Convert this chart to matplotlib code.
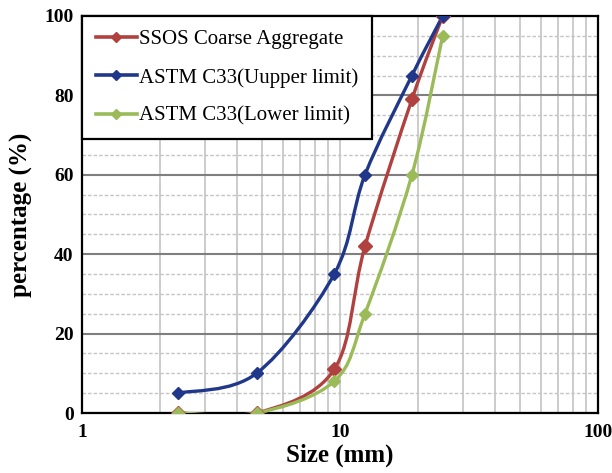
import numpy as np
import matplotlib.pyplot as plt
from matplotlib.path import Path
from matplotlib.patches import PathPatch
from matplotlib.lines import Line2D
from matplotlib.ticker import MultipleLocator, LogLocator, NullFormatter, FixedLocator

plt.rcParams['font.family'] = ['Liberation Serif', 'DejaVu Serif']

sizes = [2.36, 4.75, 9.5, 12.5, 19, 25]
ssos = [0, 0, 11, 42, 79, 100]
upper = [5, 10, 35, 60, 85, 100]
lower = [0, 0, 8, 25, 60, 95]

series = [
    ("SSOS Coarse Aggregate", ssos, '#B0413E', 10),
    ("ASTM C33(Uupper limit)", upper, '#21388A', 8),
    ("ASTM C33(Lower limit)", lower, '#9BBB59', 8),
]


def smooth_path(xs, ys):
    # catmull-rom style bezier in (log x, y) space, like excel smoothed lines
    lx = np.log10(xs)
    ys = np.asarray(ys, float)
    n = len(lx)
    verts = [(xs[0], ys[0])]
    codes = [Path.MOVETO]
    for i in range(n - 1):
        i0 = max(i - 1, 0)
        i3 = min(i + 2, n - 1)
        c1x = lx[i] + (lx[i + 1] - lx[i0]) / 6
        c1y = ys[i] + (ys[i + 1] - ys[i0]) / 6
        c2x = lx[i + 1] - (lx[i3] - lx[i]) / 6
        c2y = ys[i + 1] - (ys[i3] - ys[i]) / 6
        verts += [(10 ** c1x, c1y), (10 ** c2x, c2y), (xs[i + 1], ys[i + 1])]
        codes += [Path.CURVE4] * 3
    return Path(verts, codes)


fig = plt.figure(figsize=(6.12, 4.73), dpi=100)
ax = fig.add_axes([82 / 612, 60 / 473, 516 / 612, 397 / 473])
ax.set_xscale('log')
ax.set_xlim(1, 100)
ax.set_ylim(0, 100)

ax.xaxis.set_major_locator(FixedLocator([1, 10, 100]))
ax.xaxis.set_minor_locator(LogLocator(base=10, subs=np.arange(2, 10)))
ax.xaxis.set_minor_formatter(NullFormatter())
ax.yaxis.set_major_locator(MultipleLocator(20))
ax.yaxis.set_minor_locator(MultipleLocator(5))

ax.grid(True, which='both', axis='x', color='#C4C4C4', lw=1.2, ls='-')
ax.grid(True, which='major', axis='y', color='#7F7F7F', lw=1.5, ls='-')
ax.grid(True, which='minor', axis='y', color='#C4C4C4', lw=1.0, ls=(0, (2.5, 1.5)))
ax.set_axisbelow(True)

ax.tick_params(axis='x', which='both', length=0, pad=8, labelsize=14)
ax.tick_params(axis='y', which='both', length=0, pad=6, labelsize=14)
for lab in ax.get_yticklabels():
    lab.set_fontweight('bold')
ax.set_xticklabels(['1', '10', '100'], fontweight='bold')

for sp in ax.spines.values():
    sp.set_linewidth(1.6)
    sp.set_color('black')

handles = []
for name, vals, col, ms in series:
    ax.add_patch(PathPatch(smooth_path(sizes, vals), fill=False, edgecolor=col, lw=2.4, zorder=3))
    ax.plot(sizes, vals, ls='none', marker='D', ms=ms * 0.75, color=col, zorder=4)
    handles.append(Line2D([], [], color=col, lw=2.6, marker='D', ms=5.5))

ax.set_xlabel('Size (mm)', fontsize=18, fontweight='bold', labelpad=2)
ax.set_ylabel('percentage (%)', fontsize=18, fontweight='bold', labelpad=8)

leg = ax.legend(handles, [s[0] for s in series], loc='upper left', bbox_to_anchor=(0, 1),
                borderaxespad=0, fontsize=15, frameon=True, fancybox=False,
                handlelength=2.0, handletextpad=0.1, labelspacing=0.9, borderpad=0.65)
leg.get_frame().set_edgecolor('black')
leg.get_frame().set_linewidth(1.6)
leg.get_frame().set_alpha(1)

fig.savefig('out.png', dpi=100)
